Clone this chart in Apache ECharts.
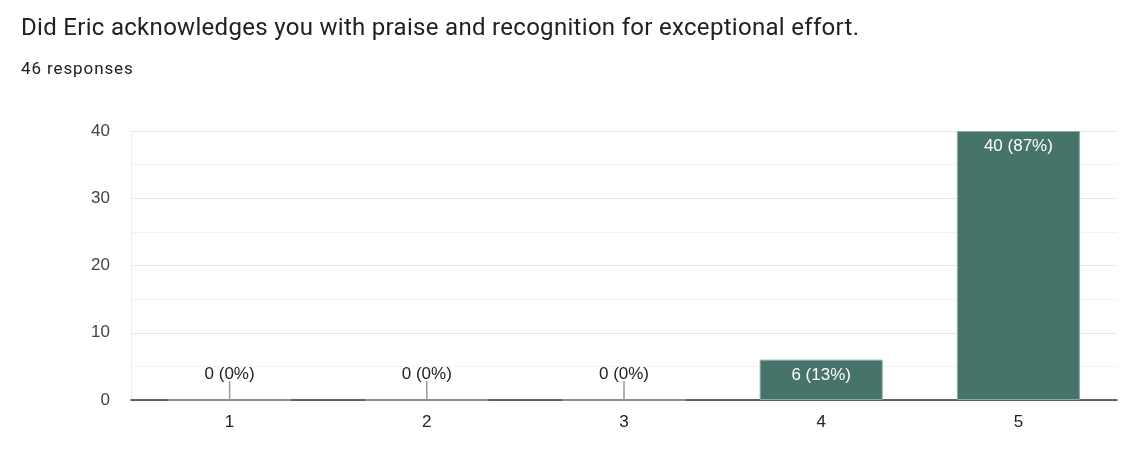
<!DOCTYPE html>
<html>
<head>
<meta charset="utf-8">
<script src="https://cdn.jsdelivr.net/npm/echarts@6/dist/echarts.min.js"></script>
<style>
html,body{margin:0;padding:0;background:#fff;}
#title{position:absolute;left:21px;top:13px;font-family:Roboto,Arial,sans-serif;font-size:24px;letter-spacing:0.3px;color:#202124;white-space:nowrap;}
#sub{position:absolute;left:21px;top:58px;font-family:Roboto,Arial,sans-serif;font-size:17px;letter-spacing:0.9px;color:#202124;}
#chart{position:absolute;left:0;top:0;width:1123px;height:472px;}
</style>
</head>
<body>
<div id="chart"></div>
<div id="title">Did Eric acknowledges you with praise and recognition for exceptional effort.</div>
<div id="sub">46 responses</div>
<script>
const categories = ['1', '2', '3', '4', '5'];
const counts = [0, 0, 0, 6, 40];
const totalResponses = 46;
const yTicks = [0, 10, 20, 30, 40];

function labelText(v) {
  return v + ' (' + Math.round(v / totalResponses * 100) + '%)';
}
const FONT = 'Arial, "Liberation Sans", sans-serif';

const chart = echarts.init(document.getElementById('chart'));
chart.setOption({
  animation: false,
  grid: { left: 131, right: 6, top: 131, bottom: 72 },
  xAxis: {
    type: 'category',
    data: categories,
    axisLine: { lineStyle: { color: '#333', width: 1.5 } },
    axisTick: { show: false },
    axisLabel: { color: '#222', fontSize: 17, margin: 14, fontFamily: FONT }
  },
  yAxis: {
    type: 'value',
    min: yTicks[0],
    max: yTicks[yTicks.length - 1],
    interval: 10,
    axisLine: { show: true, lineStyle: { color: '#eeeeee' } },
    axisTick: { show: false },
    axisLabel: { color: '#444', fontSize: 17, margin: 21, fontFamily: FONT },
    splitLine: { lineStyle: { color: '#e6e6e6', width: 1 } },
    minorTick: { show: false, splitNumber: 2 },
    minorSplitLine: { show: true, lineStyle: { color: '#f3f3f3', width: 1 } }
  },
  series: [
    {
      type: 'bar',
      data: counts,
      barWidth: 123,
      itemStyle: { color: '#46736a', borderColor: '#8fa9a3', borderWidth: 1 },
      label: {
        show: true,
        position: 'insideTop',
        distance: 7,
        color: '#fff',
        fontSize: 17,
        fontFamily: FONT,
        formatter: p => p.value > 0 ? labelText(p.value) : ''
      },
      z: 2
    },
    {
      type: 'custom',
      data: counts.map((v, i) => [i, v]),
      z: 3,
      renderItem: function (params, api) {
        const v = api.value(1);
        if (v !== 0) return null;
        const pt = api.coord([api.value(0), 0]);
        return {
          type: 'group',
          children: [
            { type: 'line', shape: { x1: pt[0], y1: pt[1] - 19, x2: pt[0], y2: pt[1] }, style: { stroke: '#999', lineWidth: 1.5 } },
            { type: 'text', style: { x: pt[0], y: pt[1] - 26, text: labelText(v), textAlign: 'center', textVerticalAlign: 'middle', fill: '#222', fontSize: 17, fontFamily: FONT } }
          ]
        };
      }
    }
  ]
});
</script>
</body>
</html>
